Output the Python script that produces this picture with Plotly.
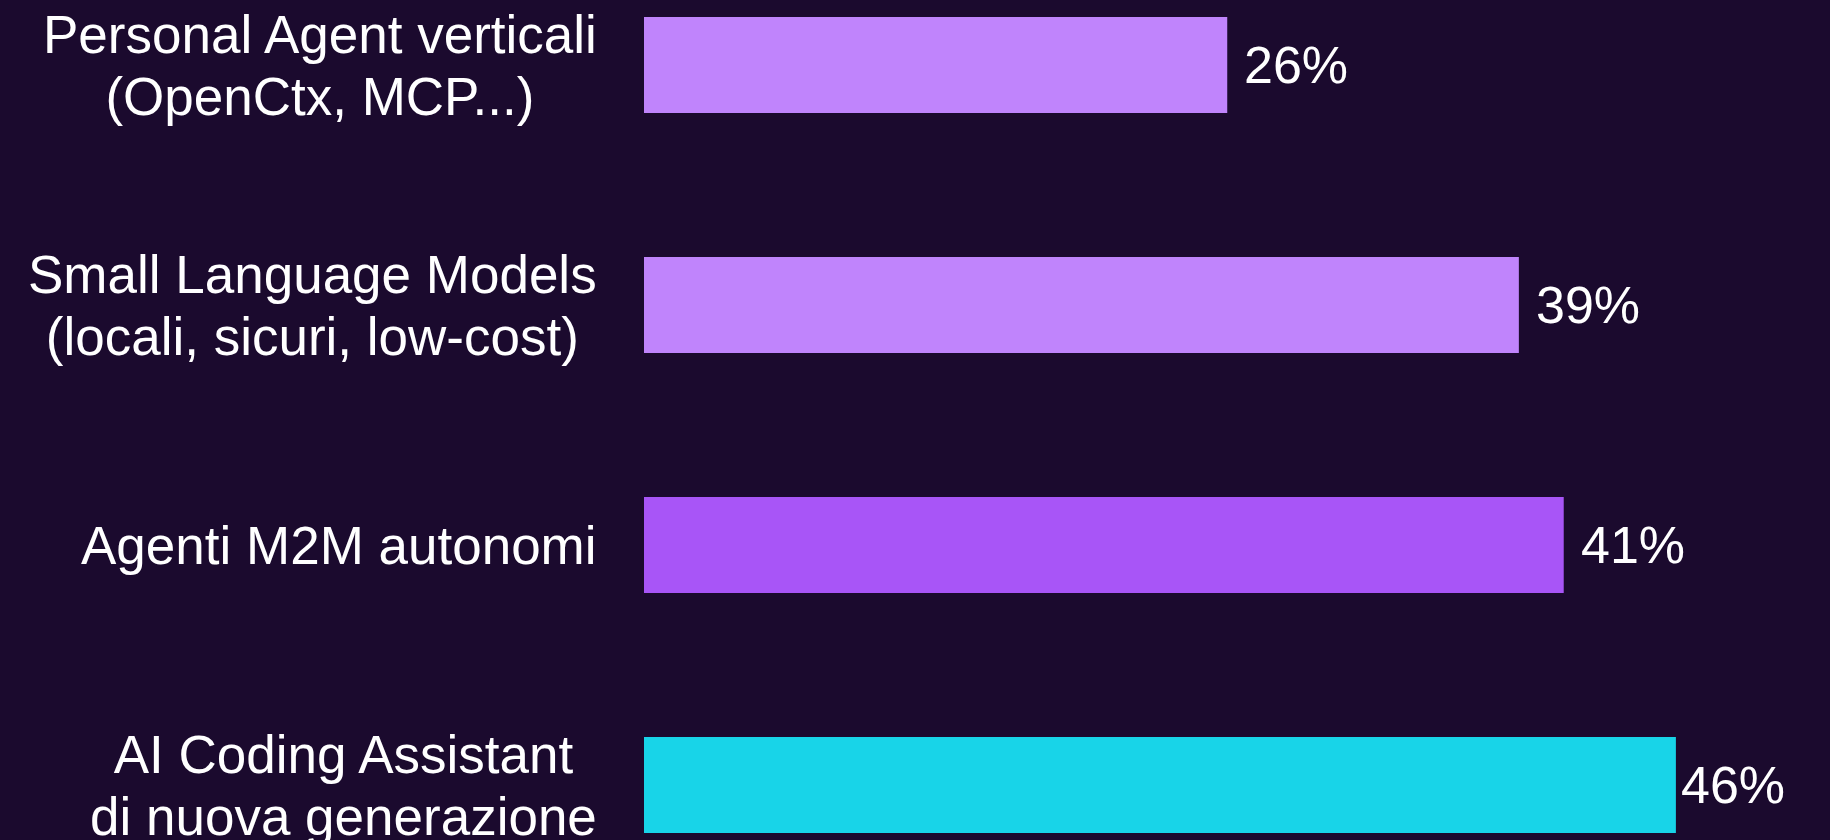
import plotly.graph_objects as go

# Data (top to bottom)
categories = [
    "Personal Agent verticali<br>(OpenCtx, MCP...)",
    "Small Language Models<br>(locali, sicuri, low-cost)",
    "Agenti M2M autonomi",
    "AI Coding Assistant<br>di nuova generazione",
]
values = [26, 39, 41, 46]
value_labels = ["26%", "39%", "41%", "46%"]

bar_colors = ["#c084fc", "#c084fc", "#a855f7", "#18d4e8"]
bg = "#1b0a2e"
font_family = "Liberation Sans, Arial, sans-serif"
label_size = 53
line_base = 48  # controls spacing between label lines
value_size = 52


def styled(text):
    parts = text.split("<br>")
    return "<br>".join(
        f'<span style="font-size:{label_size}px">{p}</span>' for p in parts
    )


fig = go.Figure()
fig.add_trace(go.Bar(
    x=values,
    y=categories,
    orientation="h",
    marker=dict(color=bar_colors, line=dict(width=0)),
    width=0.4,
    hoverinfo="skip",
    showlegend=False,
))

annotations = []
for cat in categories:
    annotations.append(dict(
        xref="paper", yref="y", x=0, y=cat,
        text=styled(cat), showarrow=False,
        xanchor="right", yanchor="middle", align="center",
        xshift=-45,
        font=dict(family=font_family, size=line_base, color="#ffffff"),
    ))

vmax = max(values)
for cat, v, lab in zip(categories, values, value_labels):
    annotations.append(dict(
        xref="x", yref="y", x=v, y=cat,
        text=lab, showarrow=False,
        xanchor="left", yanchor="middle",
        xshift=3 if v == vmax else 15,
        font=dict(family=font_family, size=value_size, color="#ffffff"),
    ))

fig.update_layout(
    width=1830, height=840,
    margin=dict(l=644, r=0, t=0, b=0, pad=0),
    paper_bgcolor=bg, plot_bgcolor=bg,
    xaxis=dict(range=[0, 52.87], visible=False, showgrid=False, zeroline=False),
    yaxis=dict(type="category", categoryarray=categories, range=[3.229, -0.271],
               visible=False, showgrid=False, zeroline=False),
    annotations=annotations,
    font=dict(family=font_family, color="#ffffff"),
)

fig.write_html(
    "out.html",
    config={"displayModeBar": False},
    post_script="document.body.style.margin='0';document.body.style.background='%s';" % bg,
)
